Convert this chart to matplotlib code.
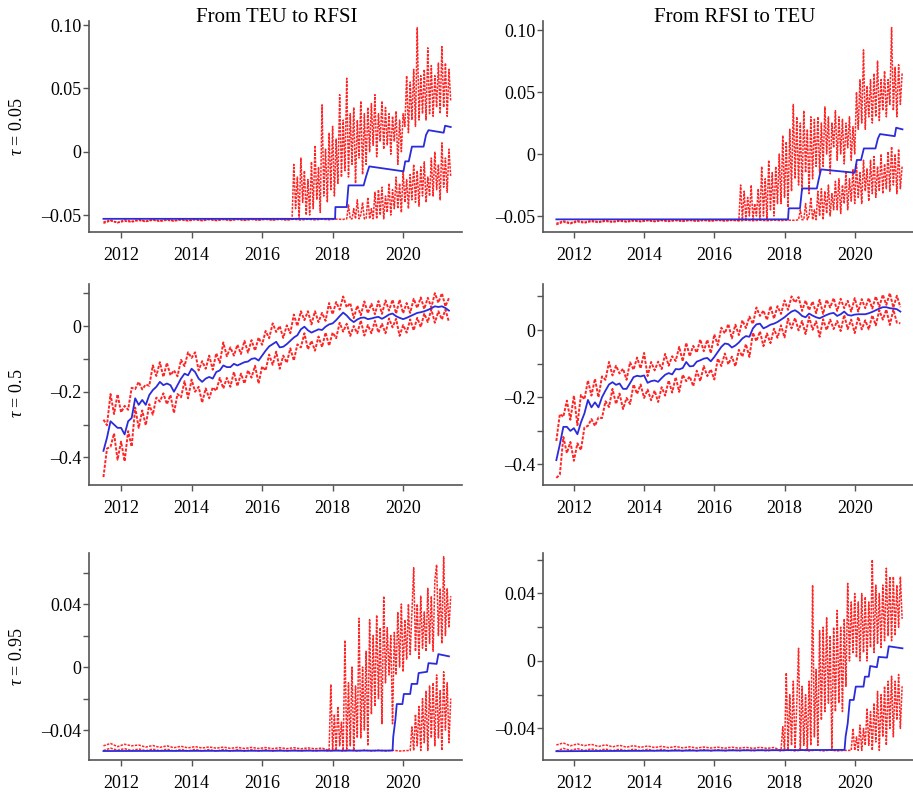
import numpy as np
import matplotlib
matplotlib.use("Agg")
import matplotlib.pyplot as plt

plt.rcParams['font.family'] = ['Liberation Serif', 'DejaVu Serif']
plt.rcParams['mathtext.fontset'] = 'custom'
plt.rcParams['mathtext.rm'] = 'Liberation Serif'
plt.rcParams['mathtext.it'] = 'Liberation Serif:italic'

# ---------------- labels ----------------
col_titles = ["From TEU to RFSI", "From RFSI to TEU"]
row_labels = [r"$\tau$ = 0.05", r"$\tau$ = 0.5", r"$\tau$ = 0.95"]
x_ticks = [2012, 2014, 2016, 2018, 2020]
x_ticklabels = ["2012", "2014", "2016", "2018", "2020"]
top_yticks = [-0.05, 0.0, 0.05, 0.10]
top_yticklabels = ["\u20130.05", "0", "0.05", "0.10"]
mid_yticks = [-0.4, -0.3, -0.2, -0.1, 0.0, 0.1]
mid_yticklabels = ["\u20130.4", "", "\u20130.2", "", "0", ""]
bot_yticks = [-0.04, -0.02, 0.0, 0.02, 0.04, 0.06]
bot_yticklabels = ["\u20130.04", "", "0", "", "0.04", ""]

# ---------------- data: tau = 0.05 ----------------
base_start = 2011.5
base_step = 0.2
noisy_step = 0.05

tl_blue_t = [2011.5, 2018.07, 2018.08, 2018.40, 2018.45, 2018.88, 2018.95, 2019.04, 2020.01,
             2020.06, 2020.16, 2020.25, 2020.58, 2020.65, 2020.72, 2021.15, 2021.19, 2021.35]
tl_blue_v = [-0.053, -0.053, -0.0437, -0.0437, -0.0266, -0.0266, -0.0195, -0.0116, -0.0155,
             -0.0076, -0.0076, 0.004, 0.004, 0.0133, 0.017, 0.015, 0.0205, 0.0195]
tl_up_base = [-0.0555, -0.0540, -0.0560, -0.0538, -0.0550, -0.0536, -0.0548, -0.0535, -0.0545,
              -0.0534, -0.0544, -0.0533, -0.0542, -0.0533, -0.0541, -0.0532, -0.0540, -0.0532,
              -0.0540, -0.0531, -0.0539, -0.0531, -0.0538, -0.0531, -0.0538, -0.0530, -0.0537]
tl_up_start = 2016.85
tl_up_noisy = [-0.053, -0.01, -0.045, -0.02, -0.053, -0.005, -0.04, -0.015, -0.05, -0.022,
               -0.05, -0.008, -0.045, 0.005, -0.038, -0.012, -0.048, 0.037, -0.035, 0.002,
               -0.04, 0.015, -0.03, 0.02, -0.035, 0.01, -0.025, 0.045, -0.02, 0.025,
               -0.015, 0.058, -0.02, 0.03, -0.01, 0.035, -0.025, 0.025, -0.005, 0.04, -0.018, 0.03, -0.01, 0.035,
               0.0, 0.038, 0.005, 0.045, -0.004, 0.03, 0.008, 0.04, 0.002, 0.035,
               0.005, 0.03, -0.002, 0.028, 0.008, 0.032, -0.01, 0.025, 0.0, 0.03,
               0.02, 0.06, 0.015, 0.055, 0.025, 0.065, 0.02, 0.098, 0.025, 0.06,
               0.03, 0.065, 0.025, 0.082, 0.03, 0.068, 0.028, 0.06, 0.035, 0.07,
               0.03, 0.083, 0.035, 0.07, 0.028, 0.065, 0.04]
tl_lo_base = [-0.0565, -0.0545, -0.0560, -0.0548, -0.0555, -0.0542, -0.0552, -0.0540, -0.0550,
              -0.0540, -0.0548, -0.0538, -0.0546, -0.0537, -0.0545, -0.0536, -0.0544, -0.0536,
              -0.0543, -0.0535, -0.0542, -0.0535, -0.0541, -0.0534, -0.0540, -0.0534, -0.0540,
              -0.0533, -0.0539, -0.0533, -0.0538, -0.0533, -0.0537, -0.0532, -0.0535]
tl_lo_start = 2018.35
tl_lo_noisy = [-0.053, -0.053, -0.042, -0.053, -0.053, -0.045, -0.053, -0.038, -0.053, -0.05,
               -0.04, -0.053, -0.053, -0.036, -0.053, -0.045, -0.053, -0.032, -0.053,
               -0.03, -0.05, -0.028, -0.053, -0.035, -0.048, -0.025, -0.05, -0.03, -0.045,
               -0.02, -0.045, -0.025, -0.048, -0.015, -0.04, -0.022, -0.045, -0.018, -0.038,
               -0.01, -0.04, -0.015, -0.043, -0.012, -0.035, -0.008, -0.04, -0.02, -0.035,
               -0.005, -0.035, 0.0, -0.03, -0.01, -0.038, 0.007, -0.028, -0.005, -0.032, 0.002, -0.02]

tr_blue_t = [2011.5, 2018.10, 2018.12, 2018.44, 2018.50, 2018.92, 2018.97, 2019.04, 2020.0,
             2020.06, 2020.18, 2020.26, 2020.59, 2020.66, 2020.72, 2021.14, 2021.18, 2021.36]
tr_blue_v = [-0.0527, -0.0527, -0.0438, -0.0438, -0.0278, -0.0278, -0.021, -0.0124, -0.0151,
             -0.0048, -0.0048, 0.0045, 0.0045, 0.0125, 0.0161, 0.0144, 0.0212, 0.0199]
tr_up_base = [-0.0560, -0.0540, -0.0555, -0.0538, -0.0550, -0.0537, -0.0547, -0.0535, -0.0545,
              -0.0535, -0.0543, -0.0534, -0.0542, -0.0533, -0.0541, -0.0533, -0.0540, -0.0532,
              -0.0539, -0.0532, -0.0538, -0.0531, -0.0538, -0.0531, -0.0537, -0.0531, -0.0536]
tr_up_start = 2016.75
tr_up_noisy = [-0.025, -0.053, -0.03, -0.053, -0.035, -0.05, -0.025, -0.053, -0.04, -0.05, -0.028, -0.053,
               -0.01, -0.05, -0.02, -0.053, -0.005, -0.045, -0.015, -0.05, -0.01, -0.04,
               0.0, -0.04, 0.015, -0.035, 0.01, -0.043, 0.02, -0.03, 0.04, -0.02,
               0.03, -0.025, 0.025, -0.03, 0.035, -0.015, 0.02, -0.032, 0.03, -0.02, 0.028, -0.01, 0.03, -0.015,
               0.025, -0.01, 0.038, 0.0, 0.03, -0.016, 0.025, 0.005, 0.035, -0.005,
               0.03, 0.0, 0.028, -0.008, 0.025, 0.005, 0.03, -0.005, 0.022, 0.0,
               0.05, 0.02, 0.06, 0.025, 0.084, 0.02, 0.055, 0.03, 0.06, 0.025,
               0.065, 0.03, 0.075, 0.027, 0.06, 0.035, 0.067, 0.03, 0.06, 0.04,
               0.102, 0.035, 0.07, 0.03, 0.072, 0.04, 0.065]
tr_lo_base = [-0.0570, -0.0548, -0.0562, -0.0546, -0.0556, -0.0544, -0.0552, -0.0542, -0.0550,
              -0.0541, -0.0548, -0.0540, -0.0546, -0.0538, -0.0545, -0.0537, -0.0544, -0.0537,
              -0.0543, -0.0536, -0.0542, -0.0536, -0.0541, -0.0535, -0.0540, -0.0535, -0.0539,
              -0.0534, -0.0538, -0.0534, -0.0538, -0.0533, -0.0537, -0.0533, -0.0535]
tr_lo_start = 2018.40
tr_lo_noisy = [-0.053, -0.045, -0.053, -0.053, -0.04, -0.053, -0.05, -0.035, -0.053, -0.045, -0.053, -0.03,
               -0.05, -0.028, -0.053, -0.03, -0.048, -0.025, -0.05, -0.032, -0.045, -0.022,
               -0.045, -0.02, -0.048, -0.025, -0.04, -0.015, -0.045, -0.02, -0.038, -0.012,
               -0.04, -0.008, -0.035, -0.015, -0.04, -0.005, -0.03, -0.012, -0.038, -0.005,
               -0.032, -0.002, -0.035, -0.01, -0.03, 0.0, -0.032, -0.008, -0.028, 0.002,
               -0.03, 0.006, -0.025, 0.0, -0.032, 0.004, -0.028, -0.01]

# ---------------- data: tau = 0.5 (0.1-year grid from 2011.5) ----------------
mid_start = 2011.5
mid_step = 0.1
ml_blue = [-0.38, -0.34, -0.29, -0.30, -0.31, -0.31, -0.33, -0.29, -0.28, -0.22,
           -0.24, -0.225, -0.24, -0.21, -0.195, -0.185, -0.17, -0.18, -0.175, -0.18,
           -0.20, -0.18, -0.16, -0.145, -0.15, -0.13, -0.14, -0.16, -0.17, -0.16,
           -0.155, -0.16, -0.14, -0.135, -0.12, -0.125, -0.125, -0.115, -0.12, -0.115,
           -0.11, -0.108, -0.10, -0.098, -0.105, -0.09, -0.075, -0.062, -0.055, -0.048,
           -0.065, -0.063, -0.055, -0.045, -0.035, -0.028, -0.01, -0.002, -0.013, -0.02,
           -0.015, -0.01, -0.012, -0.002, 0.005, 0.008, 0.018, 0.03, 0.041, 0.032,
           0.02, 0.012, 0.02, 0.025, 0.026, 0.021, 0.023, 0.026, 0.028, 0.022,
           0.028, 0.035, 0.038, 0.03, 0.025, 0.021, 0.025, 0.03, 0.035, 0.04,
           0.042, 0.045, 0.049, 0.054, 0.06, 0.058, 0.06, 0.055, 0.047]
ml_up = [-0.285, -0.302, -0.207, -0.268, -0.208, -0.263, -0.243, -0.255, -0.188, -0.192,
         -0.17, -0.193, -0.178, -0.182, -0.12, -0.152, -0.11, -0.155, -0.112, -0.15,
         -0.135, -0.153, -0.103, -0.122, -0.08, -0.097, -0.08, -0.135, -0.107, -0.13,
         -0.09, -0.133, -0.083, -0.112, -0.05, -0.092, -0.065, -0.09, -0.057, -0.085,
         -0.045, -0.081, -0.043, -0.075, -0.035, -0.057, -0.015, -0.037, 0.008, -0.018,
         0.0, -0.036, 0.002, -0.022, 0.035, 0.0, 0.045, 0.018, 0.045, 0.005,
         0.045, 0.012, 0.04, 0.016, 0.07, 0.036, 0.073, 0.05, 0.09, 0.057,
         0.07, 0.024, 0.062, 0.033, 0.075, 0.039, 0.068, 0.036, 0.076, 0.037,
         0.078, 0.047, 0.08, 0.038, 0.08, 0.039, 0.07, 0.04, 0.083, 0.055,
         0.087, 0.052, 0.086, 0.057, 0.1, 0.071, 0.1, 0.06, 0.085]
ml_lo = [-0.46, -0.373, -0.368, -0.327, -0.407, -0.352, -0.412, -0.32, -0.367, -0.248,
         -0.31, -0.257, -0.302, -0.238, -0.27, -0.218, -0.23, -0.205, -0.238, -0.21,
         -0.265, -0.207, -0.217, -0.168, -0.22, -0.163, -0.20, -0.185, -0.233, -0.19,
         -0.22, -0.187, -0.197, -0.158, -0.19, -0.158, -0.185, -0.14, -0.183, -0.145,
         -0.175, -0.135, -0.157, -0.121, -0.175, -0.123, -0.135, -0.087, -0.118, -0.078,
         -0.13, -0.09, -0.112, -0.068, -0.105, -0.056, -0.065, -0.022, -0.071, -0.045,
         -0.075, -0.032, -0.064, -0.02, -0.06, -0.02, -0.037, 0.01, -0.017, 0.007,
         -0.03, 0.0, -0.022, 0.017, -0.029, 0.003, -0.022, 0.016, -0.02, 0.007,
         -0.022, 0.023, -0.004, 0.022, -0.03, 0.003, -0.02, 0.02, -0.013, 0.025,
         -0.003, 0.038, 0.012, 0.051, 0.01, 0.045, 0.02, 0.05, 0.012]

mr_blue = [-0.387, -0.34, -0.288, -0.288, -0.30, -0.292, -0.31, -0.275, -0.248, -0.208,
           -0.23, -0.215, -0.23, -0.20, -0.18, -0.162, -0.155, -0.163, -0.159, -0.175,
           -0.175, -0.158, -0.14, -0.136, -0.138, -0.135, -0.157, -0.152, -0.15, -0.154,
           -0.143, -0.133, -0.128, -0.132, -0.116, -0.117, -0.113, -0.095, -0.108, -0.107,
           -0.094, -0.09, -0.085, -0.083, -0.093, -0.08, -0.065, -0.05, -0.04, -0.042,
           -0.052, -0.046, -0.037, -0.025, -0.018, -0.02, 0.005, 0.017, 0.019, 0.005,
           0.01, 0.016, 0.019, 0.024, 0.031, 0.038, 0.047, 0.055, 0.059, 0.052,
           0.042, 0.038, 0.049, 0.043, 0.038, 0.035, 0.04, 0.045, 0.049, 0.051,
           0.042, 0.047, 0.055, 0.045, 0.043, 0.046, 0.047, 0.047, 0.047, 0.05,
           0.054, 0.059, 0.064, 0.068, 0.068, 0.065, 0.064, 0.062, 0.055]
mr_up = [-0.33, -0.25, -0.258, -0.21, -0.267, -0.195, -0.283, -0.193, -0.206, -0.15,
         -0.195, -0.145, -0.2, -0.138, -0.148, -0.095, -0.135, -0.106, -0.129, -0.115,
         -0.148, -0.096, -0.118, -0.082, -0.114, -0.068, -0.137, -0.095, -0.12, -0.094,
         -0.116, -0.071, -0.106, -0.078, -0.092, -0.05, -0.093, -0.038, -0.078, -0.047,
         -0.067, -0.028, -0.063, -0.029, -0.069, -0.013, -0.045, 0.007, -0.01, 0.018,
         -0.025, 0.016, -0.015, 0.029, 0.006, 0.04, 0.018, 0.067, 0.042, 0.058,
         0.03, 0.071, 0.034, 0.071, 0.048, 0.088, 0.06, 0.1, 0.082, 0.098,
         0.057, 0.088, 0.059, 0.085, 0.05, 0.09, 0.048, 0.09, 0.067, 0.095,
         0.057, 0.093, 0.065, 0.087, 0.055, 0.095, 0.055, 0.092, 0.065, 0.095,
         0.064, 0.1, 0.069, 0.105, 0.075, 0.11, 0.067, 0.102, 0.068]
mr_lo = [-0.44, -0.43, -0.318, -0.366, -0.333, -0.389, -0.337, -0.357, -0.29, -0.285,
         -0.265, -0.285, -0.26, -0.262, -0.212, -0.229, -0.175, -0.22, -0.189, -0.235,
         -0.202, -0.22, -0.162, -0.19, -0.162, -0.202, -0.177, -0.209, -0.18, -0.214,
         -0.17, -0.195, -0.15, -0.186, -0.14, -0.184, -0.133, -0.152, -0.138, -0.167,
         -0.121, -0.152, -0.107, -0.137, -0.117, -0.147, -0.085, -0.107, -0.07, -0.102,
         -0.079, -0.108, -0.059, -0.079, -0.042, -0.08, -0.008, -0.033, -0.004, -0.048,
         -0.01, -0.039, 0.004, -0.023, 0.014, -0.022, 0.034, 0.005, 0.036, -0.001,
         0.027, -0.012, 0.039, 0.001, 0.026, -0.02, 0.032, 0.0, 0.031, 0.003,
         0.027, -0.003, 0.045, 0.003, 0.031, -0.009, 0.039, 0.002, 0.029, 0.002,
         0.044, 0.014, 0.059, 0.031, 0.061, 0.015, 0.061, 0.022, 0.02]

# ---------------- data: tau = 0.95 ----------------
bl_blue_t = [2011.5, 2019.70, 2019.72, 2019.78, 2019.82, 2019.98, 2020.02, 2020.20, 2020.24,
             2020.40, 2020.44, 2020.68, 2020.72, 2020.95, 2021.0, 2021.3]
bl_blue_v = [-0.0533, -0.0530, -0.0442, -0.0335, -0.0235, -0.0235, -0.0171, -0.0171, -0.0107,
             -0.0107, -0.0038, -0.0030, 0.0025, 0.0020, 0.0082, 0.0068]
bl_up_base = [-0.0500, -0.0485, -0.0505, -0.0490, -0.0500, -0.0495, -0.0508, -0.0498, -0.0510,
              -0.0500, -0.0512, -0.0503, -0.0513, -0.0505, -0.0514, -0.0507, -0.0515, -0.0508,
              -0.0516, -0.0510, -0.0517, -0.0510, -0.0517, -0.0511, -0.0518, -0.0512, -0.0518,
              -0.0512, -0.0519, -0.0513, -0.0519, -0.0514]
bl_up_start = 2017.9
bl_up_noisy = [-0.053, -0.011, -0.053, -0.03, -0.053, -0.025, -0.05, -0.035, -0.053,
               0.017, -0.053, -0.01, -0.05, 0.0, -0.053, -0.012, -0.045,
               0.031, -0.045, 0.0, -0.04, 0.01, -0.05,
               0.03, -0.03, 0.02, -0.025, 0.033, -0.02, 0.025, -0.036, 0.045,
               -0.01, 0.025, -0.005, 0.02, -0.036, 0.022,
               -0.005, 0.035, 0.0, 0.04, -0.003, 0.03, 0.005,
               0.04, 0.008, 0.035, 0.063, 0.01, 0.04, 0.005, 0.045, 0.012, 0.035,
               0.01, 0.05, 0.015, 0.045, 0.01, 0.055, 0.065, 0.02, 0.05,
               0.015, 0.07, 0.02, 0.05, 0.025, 0.045]
bl_lo_base = [-0.0530, -0.0515, -0.0528, -0.0518, -0.0530, -0.0520, -0.0531, -0.0521, -0.0531,
              -0.0522, -0.0532, -0.0523, -0.0532, -0.0523, -0.0532, -0.0524, -0.0533, -0.0524,
              -0.0533, -0.0525, -0.0533, -0.0525, -0.0533, -0.0525, -0.0533, -0.0526, -0.0533,
              -0.0526, -0.0533, -0.0526, -0.0533, -0.0527, -0.0533, -0.0527, -0.0533, -0.0527,
              -0.0533, -0.0527, -0.0533, -0.0528, -0.0533, -0.0528, -0.0533, -0.0530]
bl_lo_start = 2020.2
bl_lo_noisy = [-0.053, -0.038, -0.053, -0.03, -0.05, -0.025,
               -0.053, -0.02, -0.048, -0.015, -0.053, -0.012, -0.045,
               -0.01, -0.05, -0.005, -0.045, -0.015, -0.053, -0.003, -0.04, -0.01, -0.048, -0.02]

br_blue_t = [2011.5, 2019.71, 2019.74, 2019.80, 2019.86, 2019.97, 2020.03, 2020.25, 2020.29,
             2020.40, 2020.44, 2020.63, 2020.68, 2020.92, 2020.97, 2021.36]
br_blue_v = [-0.0535, -0.0527, -0.0448, -0.037, -0.0231, -0.0231, -0.0152, -0.0152, -0.0093,
             -0.0093, -0.003, -0.0037, 0.0024, 0.0020, 0.0087, 0.0075]
br_up_base = [-0.0498, -0.0486, -0.0503, -0.0492, -0.0502, -0.0494, -0.0507, -0.0497, -0.0509,
              -0.0500, -0.0511, -0.0502, -0.0512, -0.0504, -0.0513, -0.0506, -0.0514, -0.0507,
              -0.0515, -0.0509, -0.0516, -0.0510, -0.0516, -0.0511, -0.0517, -0.0511, -0.0517,
              -0.0512, -0.0518, -0.0512, -0.0518, -0.0513]
br_up_start = 2017.9
br_up_noisy = [-0.053, -0.039, -0.053, -0.007, -0.053, -0.02, -0.05, -0.012, -0.053,
               -0.025, 0.0075, -0.053, -0.015, -0.05, -0.02, -0.053, -0.012,
               -0.05, 0.045, -0.045, -0.005, -0.05, 0.018,
               -0.035, 0.02, -0.03, 0.026, -0.025, 0.015, -0.053, 0.02, -0.03,
               0.03, -0.025, 0.02, -0.03, 0.025, -0.015,
               0.046, 0.0, 0.035, 0.005, 0.04, 0.002, 0.035,
               0.0, 0.04, 0.005, 0.038, 0.0, 0.035, 0.008, 0.06, 0.005, 0.045,
               0.01, 0.04, 0.008, 0.045, 0.012, 0.055, 0.015, 0.05, 0.012,
               0.05, 0.015, 0.045, 0.02, 0.05, 0.025]
br_lo_base = [-0.0535, -0.0518, -0.0530, -0.0520, -0.0531, -0.0521, -0.0531, -0.0522, -0.0532,
              -0.0523, -0.0532, -0.0523, -0.0532, -0.0524, -0.0532, -0.0524, -0.0533, -0.0525,
              -0.0533, -0.0525, -0.0533, -0.0525, -0.0533, -0.0526, -0.0533, -0.0526, -0.0533,
              -0.0526, -0.0533, -0.0527, -0.0533, -0.0527, -0.0533, -0.0527, -0.0533, -0.0528,
              -0.0533, -0.0528, -0.0533, -0.0528, -0.0533, -0.0530]
br_lo_start = 2019.9
br_lo_noisy = [-0.053, -0.04, -0.053, -0.045, -0.053, -0.038, -0.053, -0.04, -0.05,
               -0.028, -0.05, -0.03, -0.053, -0.025, -0.048, -0.018, -0.053, -0.02,
               -0.045, -0.015, -0.05, -0.012, -0.04, -0.009, -0.045, -0.012, -0.035, -0.008, -0.04, -0.015]

# ---------------- helpers ----------------
RED = '#ff0d0d'
BLUE = '#2b2bdc'
AX_COL = '#555555'


def ci_series(base, start, noisy):
    t = np.concatenate([base_start + base_step * np.arange(len(base)),
                        start + noisy_step * np.arange(len(noisy))])
    v = np.concatenate([np.asarray(base), np.asarray(noisy)])
    return t, v


def style(ax, xlim, ylim, yticks, yticklabels):
    ax.set_xlim(*xlim)
    ax.set_ylim(*ylim)
    for s in ['top', 'right']:
        ax.spines[s].set_visible(False)
    for s in ['left', 'bottom']:
        ax.spines[s].set_color(AX_COL)
        ax.spines[s].set_linewidth(1.2)
    ax.set_xticks(x_ticks)
    ax.set_xticklabels(x_ticklabels)
    ax.set_yticks(yticks)
    ax.set_yticklabels(yticklabels)
    ax.tick_params(axis='x', length=4, width=1, color=AX_COL, pad=7, labelsize=13)
    ax.tick_params(axis='y', length=4, width=1, color=AX_COL, pad=1.5, labelsize=13)
    ax.patch.set_alpha(0)


def red(ax, t, v, lw=1.1):
    ax.plot(t, v, color=RED, lw=lw, ls=(0, (1.6, 0.8)), alpha=0.9, zorder=2)


def blue(ax, t, v):
    ax.plot(t, v, color=BLUE, lw=1.3, zorder=3)


W, H = 913, 793
fig = plt.figure(figsize=(W / 100, H / 100), dpi=100)


def rect(x0, x1, ytop, ybot):
    return [x0 / W, 1 - ybot / H, (x1 - x0) / W, (ybot - ytop) / H]


left_x = (89, 462)
right_x = (543, 913)
rows_y = [(21, 232), (284, 485), (553, 760)]
xlim_l = (2011.09, 2021.67)
xlim_r = (2011.12, 2021.66)

# ----- row 1 -----
ax = fig.add_axes(rect(*left_x, *rows_y[0]))
red(ax, *ci_series(tl_up_base, tl_up_start, tl_up_noisy))
red(ax, *ci_series(tl_lo_base, tl_lo_start, tl_lo_noisy))
blue(ax, tl_blue_t, tl_blue_v)
style(ax, xlim_l, (-0.0634, 0.1032), top_yticks, top_yticklabels)

ax = fig.add_axes(rect(*right_x, *rows_y[0]))
red(ax, *ci_series(tr_up_base, tr_up_start, tr_up_noisy))
red(ax, *ci_series(tr_lo_base, tr_lo_start, tr_lo_noisy))
blue(ax, tr_blue_t, tr_blue_v)
style(ax, xlim_r, (-0.0629, 0.1073), top_yticks, top_yticklabels)

# ----- row 2 -----
mid_t = mid_start + mid_step * np.arange(len(ml_blue))
ax = fig.add_axes(rect(*left_x, *rows_y[1]))
red(ax, mid_t, ml_up, lw=1.4)
red(ax, mid_t, ml_lo, lw=1.4)
blue(ax, mid_t, ml_blue)
style(ax, xlim_l, (-0.484, 0.128), mid_yticks, mid_yticklabels)

ax = fig.add_axes(rect(*right_x, *rows_y[1]))
red(ax, mid_t, mr_up, lw=1.4)
red(ax, mid_t, mr_lo, lw=1.4)
blue(ax, mid_t, mr_blue)
style(ax, xlim_r, (-0.461, 0.137), mid_yticks, mid_yticklabels)

# ----- row 3 -----
ax = fig.add_axes(rect(*left_x, *rows_y[2]))
red(ax, *ci_series(bl_up_base, bl_up_start, bl_up_noisy))
red(ax, *ci_series(bl_lo_base, bl_lo_start, bl_lo_noisy))
blue(ax, bl_blue_t, bl_blue_v)
style(ax, xlim_l, (-0.0590, 0.0724), bot_yticks, bot_yticklabels)

ax = fig.add_axes(rect(*right_x, *rows_y[2]))
red(ax, *ci_series(br_up_base, br_up_start, br_up_noisy))
red(ax, *ci_series(br_lo_base, br_lo_start, br_lo_noisy))
blue(ax, br_blue_t, br_blue_v)
style(ax, xlim_r, (-0.0587, 0.0640), bot_yticks, bot_yticklabels)

# ----- titles and row labels -----
fig.text(277 / W, 1 - 17 / H, col_titles[0], ha='center', va='center', fontsize=15)
fig.text(735 / W, 1 - 17 / H, col_titles[1], ha='center', va='center', fontsize=15)
for lab, yc in zip(row_labels, [127, 393, 657]):
    fig.text(17 / W, 1 - yc / H, lab, ha='center', va='center', rotation=90, fontsize=13)

fig.savefig('out.png', dpi=100)
